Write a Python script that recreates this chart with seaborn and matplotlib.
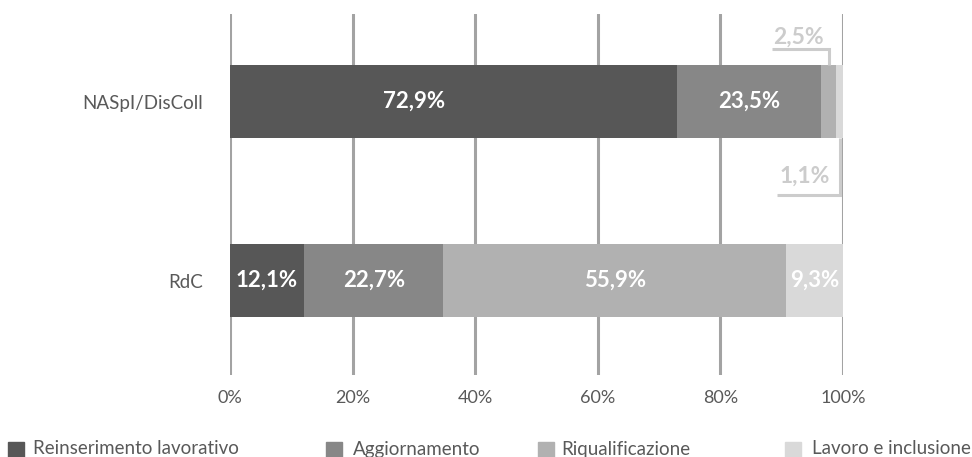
import matplotlib
matplotlib.use("Agg")
import matplotlib.pyplot as plt
import numpy as np
import pandas as pd
import seaborn as sns

categories = ["NASpI/DisColl", "RdC"]
series = ["Reinserimento lavorativo", "Aggiornamento", "Riqualificazione", "Lavoro e inclusione"]
values = {
    "Reinserimento lavorativo": [72.9, 12.1],
    "Aggiornamento": [23.5, 22.7],
    "Riqualificazione": [2.5, 55.9],
    "Lavoro e inclusione": [1.1, 9.3],
}
colors = ["#575757", "#878787", "#b1b1b1", "#d9d9d9"]
xticks = [0, 20, 40, 60, 80, 100]

sns.set_theme(style="white")
plt.rcParams["font.family"] = ["Lato", "DejaVu Sans"]

df = pd.DataFrame(values, index=categories)
cum = df.cumsum(axis=1)

fig = plt.figure(figsize=(9.72, 4.57), dpi=100)
ax = fig.add_axes([0.2366, 0.179, 0.6307, 0.790])

# gridlines behind bars
for t in xticks:
    ax.axvline(t, color="#a3a3a3", lw=2.2, zorder=0)

# overlay cumulative bars from the largest down
for s, c in reversed(list(zip(series, colors))):
    d = pd.DataFrame({"cat": categories, "val": cum[s].values})
    sns.barplot(data=d, y="cat", x="val", color=c, orient="h", width=0.41,
                saturation=1, linewidth=0, edgecolor="none", ax=ax, zorder=2)

def fmt(v):
    return f"{v:.1f}%".replace(".", ",")

# value labels (the big first one sits a bit left of centre in the original)
shift = {("NASpI/DisColl", "Reinserimento lavorativo"): -6.5}
for i, cat in enumerate(categories):
    left = 0
    for s in series:
        v = df.loc[cat, s]
        if v > 5:
            mid = left + v / 2 + shift.get((cat, s), 0)
            ax.text(mid, i, fmt(v), ha="center", va="center",
                    color="white", fontsize=16, fontweight="bold", zorder=5)
        left += v

# small segments with leader lines
lab_col = "#cccccc"
v = df.loc["NASpI/DisColl", "Riqualificazione"]
xm = cum.loc["NASpI/DisColl", "Aggiornamento"] + v / 2
ax.plot([xm, xm, 88.4], [-0.205, -0.293, -0.293], color=lab_col, lw=2.2, zorder=3,
        solid_joinstyle="miter", solid_capstyle="butt")
ax.text(96.9, -0.325, fmt(v), ha="right", va="baseline",
        color=lab_col, fontsize=16.5, fontweight="bold")
v = df.loc["NASpI/DisColl", "Lavoro e inclusione"]
xm = cum.loc["NASpI/DisColl", "Riqualificazione"] + v / 2
ax.plot([xm, xm, 89.2], [0.205, 0.522, 0.522], color=lab_col, lw=2.2, zorder=3,
        solid_joinstyle="miter", solid_capstyle="butt")
ax.text(97.9, 0.455, fmt(v), ha="right", va="baseline",
        color=lab_col, fontsize=16.5, fontweight="bold")

ax.set_xlim(0, 100)
ax.set_ylim(1.528, -0.489)
ax.set_xticks(xticks)
ax.set_xticklabels([f"{t}%" for t in xticks], color="#595959", fontsize=13)
ax.tick_params(axis="y", labelcolor="#595959", labelsize=13.5, pad=19.5, length=0)
ax.tick_params(axis="x", pad=10.5, length=0)
ax.set_xlabel("")
ax.set_ylabel("")
for sp in ax.spines.values():
    sp.set_visible(False)

# legend, cut at the bottom edge like the original
sq_x = [8, 326, 538, 785]
tx_x = [33, 353, 561, 812]
W, H = 972, 457
for s, c, x0, x1 in zip(series, colors, sq_x, tx_x):
    fig.patches.append(plt.Rectangle((x0 / W, 0), 16 / W, 15 / H, color=c,
                                     transform=fig.transFigure, figure=fig))
    fig.text(x1 / W, (H - 449) / H, s, color="#595959", fontsize=13.5, va="center")

fig.savefig("out.png", dpi=100)
